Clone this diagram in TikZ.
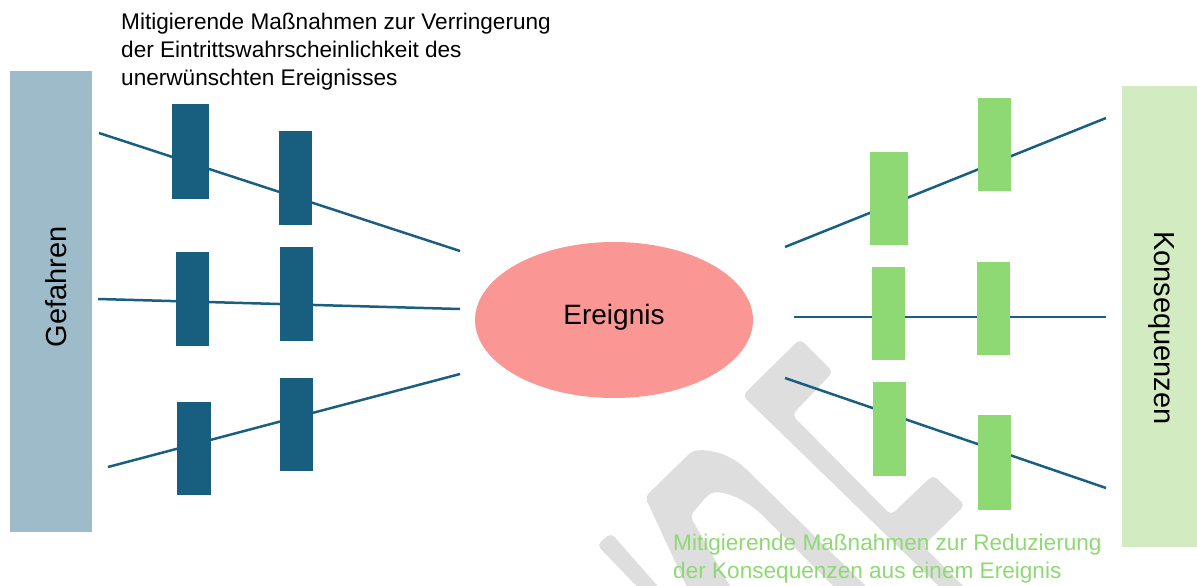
\documentclass[tikz,border=0pt]{standalone}
\usepackage{fontspec}
\setmainfont{Liberation Sans}
\usetikzlibrary{shapes.geometric}

\definecolor{hazardbar}{HTML}{9EBBC9}
\definecolor{barrierblue}{HTML}{175E7F}
\definecolor{linkblue}{HTML}{1B5F80}
\definecolor{eventred}{HTML}{FA9693}
\definecolor{barriergreen}{HTML}{8ED973}
\definecolor{consequencebar}{HTML}{D3EBC0}
\definecolor{wmgray}{HTML}{DEDEDE}

\begin{document}
\begin{tikzpicture}[x=1pt,y=-1pt,
  sidebar/.style={rectangle, inner sep=0pt, anchor=north west},
  sidelabel/.style={font=\fontsize{29}{34}\selectfont, inner sep=0pt},
  prevent/.style={rectangle, fill=barrierblue, minimum width=33pt,
    minimum height=94pt, inner sep=0pt},
  mitigate/.style={rectangle, fill=barriergreen, minimum width=33pt,
    minimum height=93pt, inner sep=0pt},
  pathway/.style={draw=linkblue, line width=2.5pt},
  caption/.style={anchor=north west, align=left, inner sep=0pt,
    font=\fontsize{22.6}{28}\selectfont},
  wmshape/.style={fill=wmgray, rounded corners=5pt}]

\useasboundingbox (0,0) rectangle (1197,586);

% faint background lettering
\begin{scope}
  \clip (0,0) rectangle (1197,586);
  \fill[wmshape] (650,600) -- (597,545) -- (611,533) -- (670,600) -- cycle;
  \fill[wmshape] (693,600) -- (645,497) -- (686,457)
     .. controls (696,447) and (726,449) .. (750,473) -- (880,600) -- (847,600)
     -- (765,518) .. controls (745,498) and (718,488) .. (706,497)
     -- (690,516) -- (738,600) -- cycle;
  \fill[wmshape] (953,600) -- (742.5,395.5) -- (800,339) -- (833,372) -- (792,415)
     -- (891,515) -- (933,475) -- (965,505) -- (923,546) -- (977,600) -- cycle;
\end{scope}

% side bars
\node[sidebar, fill=hazardbar, minimum width=81.5pt, minimum height=461pt]
  (hazards) at (10,71) {};
\node[sidelabel, rotate=90] (hazardslabel) at (56,287) {Gefahren};
\node[sidebar, fill=consequencebar, minimum width=75pt, minimum height=461pt]
  (consequences) at (1122,86) {};
\node[sidelabel, rotate=-90] (consequenceslabel) at (1161,328) {Konsequenzen};

% central event
\node[ellipse, fill=eventred, minimum width=278pt, minimum height=156pt,
  inner sep=0pt] (event) at (614,320) {};
\node[font=\fontsize{28}{33}\selectfont, inner sep=0pt] (eventlabel)
  at (614,317) {Ereignis};

% threat and consequence pathways
\coordinate (t1) at (99,133);   \coordinate (t1e) at (460,251);
\coordinate (t2) at (98,299);   \coordinate (t2e) at (460,309);
\coordinate (t3) at (108,467);  \coordinate (t3e) at (460,374);
\coordinate (c1s) at (785,247); \coordinate (c1) at (1106,118);
\coordinate (c2s) at (794,317); \coordinate (c2) at (1106,317);
\coordinate (c3s) at (785,378); \coordinate (c3) at (1106,488);

\draw[pathway] (t1) -- (t1e);
\draw[pathway] (t2) -- (t2e);
\draw[pathway] (t3) -- (t3e);
\draw[pathway] (c1s) -- (c1);
\draw[pathway] (c2s) -- (c2);
\draw[pathway] (c3s) -- (c3);

% preventive barriers
\node[prevent, minimum width=37pt, minimum height=95pt] (p1a) at (190.5,151.5) {};
\node[prevent] (p1b) at (295.5,178) {};
\node[prevent] (p2a) at (192.5,299) {};
\node[prevent] (p2b) at (296.5,294) {};
\node[prevent, minimum width=34pt, minimum height=93pt] (p3a) at (194,448.5) {};
\node[prevent, minimum height=93pt] (p3b) at (296.5,424.5) {};

% mitigating barriers
\node[mitigate, minimum width=38pt] (m1a) at (889,198.5) {};
\node[mitigate] (m1b) at (994.5,144.5) {};
\node[mitigate] (m2a) at (888.5,313.5) {};
\node[mitigate] (m2b) at (993.5,308.5) {};
\node[mitigate, minimum height=94pt] (m3a) at (889.5,429) {};
\node[mitigate, minimum height=95pt] (m3b) at (994.5,462.5) {};

% captions
\node[caption] (preventcaption) at (121,12.5)
  {Mitigierende Maßnahmen zur Verringerung\\der Eintrittswahrscheinlichkeit des\\unerwünschten Ereignisses};
\node[caption, text=barriergreen] (mitigatecaption) at (673,533.5)
  {Mitigierende Maßnahmen zur Reduzierung\\der Konsequenzen aus einem Ereignis};

\end{tikzpicture}
\end{document}
